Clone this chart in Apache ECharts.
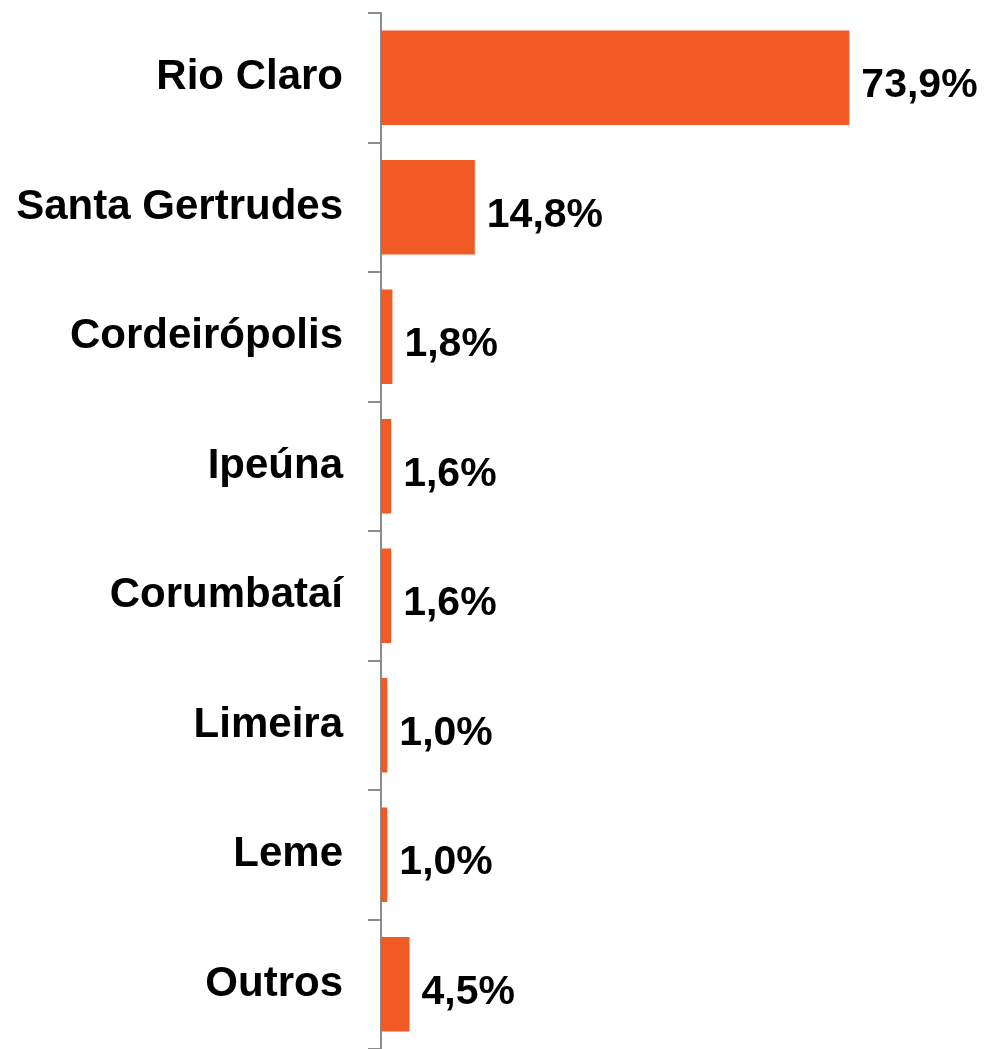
<!DOCTYPE html>
<html>
<head>
<meta charset="utf-8">
<title>Participação por município</title>
<script src="https://cdn.jsdelivr.net/npm/echarts@6/dist/echarts.min.js"></script>
<style>
  html, body { margin: 0; padding: 0; background: #fff; }
  #chart { width: 986px; height: 1049px; }
</style>
</head>
<body>
<div id="chart"></div>
<script>
// municípios (de cima para baixo)
var categories = ['Rio Claro', 'Santa Gertrudes', 'Cordeirópolis', 'Ipeúna', 'Corumbataí', 'Limeira', 'Leme', 'Outros']
// participação em %
var values = [73.9, 14.8, 1.8, 1.6, 1.6, 1.0, 1.0, 4.5]

var chart = echarts.init(document.getElementById('chart'))

var font = '"Liberation Sans", Arial, sans-serif'

var option = {
  animation: false,
  grid: {
    top: 13,
    left: 381,
    right: 98,
    bottom: -4
  },
  xAxis: {
    type: 'value',
    min: 0,
    max: 80,
    show: false
  },
  yAxis: {
    type: 'category',
    data: categories,
    inverse: true,
    axisLine: {
      show: true,
      lineStyle: { color: '#8c8c8c', width: 2 }
    },
    axisTick: {
      show: true,
      inside: false,
      length: 13,
      lineStyle: { color: '#8c8c8c', width: 2 }
    },
    axisLabel: {
      margin: 38,
      color: '#000',
      fontFamily: font,
      fontWeight: 'bold',
      fontSize: 42
    }
  },
  series: [
    {
      name: 'participação',
      type: 'bar',
      data: values,
      barCategoryGap: '27%',
      itemStyle: { color: '#F15A25' },
      label: {
        show: true,
        position: 'right',
        distance: 12,
        offset: [0, 8],
        color: '#000',
        fontFamily: font,
        fontWeight: 'bold',
        fontSize: 41,
        formatter: function(p) {
          return p.value.toFixed(1).replace('.', ',') + '%'
        }
      }
    }
  ]
}

chart.setOption(option)
</script>
</body>
</html>
